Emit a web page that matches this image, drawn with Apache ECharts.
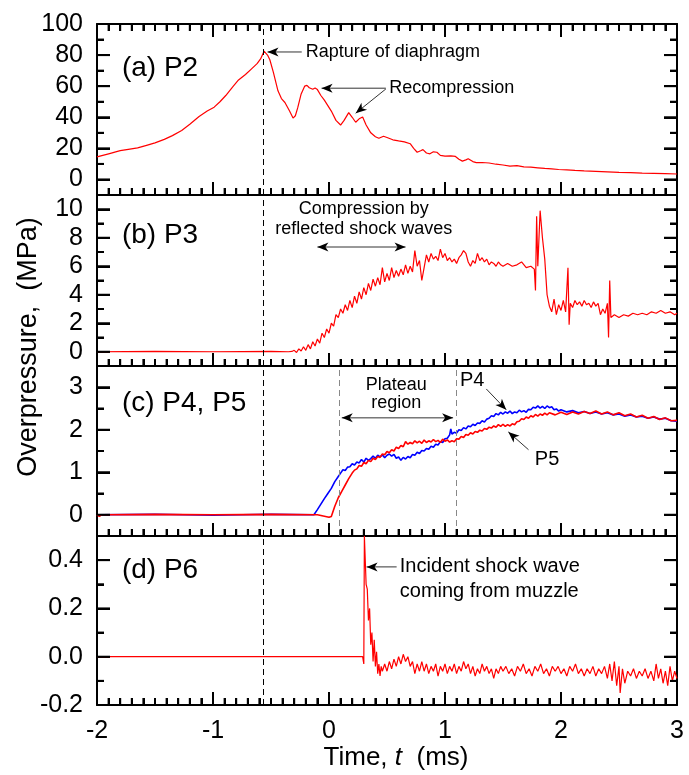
<!DOCTYPE html>
<html>
<head>
<meta charset="utf-8">
<script src="https://cdn.jsdelivr.net/npm/echarts@6/dist/echarts.min.js"></script>
<style>
html, body { margin: 0; padding: 0; background: #fff; }
#chart { width: 689px; height: 775px; }
</style>
</head>
<body>
<div id="chart"></div>
<script>
// time axis (ms)
const timeMin = -2;
const timeMax = 3;
const timeMinorStep = 0.1;
const diaphragmTime = -0.57;
const plateauTimes = [0.09, 1.1];

// panel y ranges [min, max] and major tick steps
const rangeP2 = [-10, 100];
const rangeP3 = [-1, 11];
const rangeP45 = [-0.5, 3.5];
const rangeP6 = [-0.2, 0.5];
const yMajorSteps = [20, 2, 1, 0.2];

// (a) P2, MPa
const p2 = [[-2,14.5],[-1.9,16.5],[-1.8,18.5],[-1.73,19.4],[-1.65,20.3],[-1.58,21.8],[-1.5,23.5],[-1.42,25.8],
  [-1.35,28.2],[-1.27,31.5],[-1.2,35.5],[-1.12,40.5],[-1.05,44],[-0.99,46.5],[-0.94,50],[-0.89,54],[-0.83,59.5],
  [-0.78,64],[-0.72,67.5],[-0.67,71],[-0.62,74.5],[-0.59,77.5],[-0.56,82.5],[-0.53,80],[-0.51,77],[-0.48,69],
  [-0.44,57],[-0.41,52],[-0.38,49.5],[-0.34,44],[-0.31,39.5],[-0.29,41],[-0.27,46],[-0.24,55],[-0.21,60],
  [-0.19,60.5],[-0.17,59],[-0.14,58],[-0.12,58.8],[-0.1,57.8],[-0.07,54],[-0.04,51],[-0.01,47.5],[0.02,44],
  [0.06,38],[0.1,35],[0.13,38],[0.17,43],[0.2,40],[0.23,36.8],[0.26,39],[0.29,40.2],[0.32,35],[0.36,30],
  [0.4,27.5],[0.43,26.5],[0.47,27.8],[0.5,27],[0.55,25.5],[0.6,24.8],[0.65,24.2],[0.7,23],[0.73,20],[0.76,17.5],
  [0.79,18.5],[0.81,19.2],[0.84,17],[0.87,16.5],[0.9,17.8],[0.93,17.5],[0.96,15.5],[1,15],[1.05,15.2],[1.09,14.8],
  [1.12,13],[1.15,11.8],[1.18,12.6],[1.2,13.3],[1.24,11.5],[1.27,10.8],[1.32,10.9],[1.38,10.6],[1.44,9.8],
  [1.5,9.3],[1.56,8.6],[1.62,8.9],[1.68,8.1],[1.74,7.9],[1.8,7.5],[1.86,7.1],[1.92,6.8],[1.98,6.4],[2.05,6.2],
  [2.12,5.8],[2.2,5.5],[2.3,5.2],[2.4,4.9],[2.5,4.6],[2.6,4.4],[2.7,4.1],[2.8,3.9],[2.9,3.7],[3,3.5]];

// (b) P3, MPa
const p3 = [[-2,0],[-1.5,0.02],[-1,0],[-0.5,0.02],[-0.35,0],[-0.32,0.02],[-0.3,0.1],[-0.28,-0.05],[-0.26,0.2],
  [-0.24,0.05],[-0.22,0.35],[-0.2,0.1],[-0.18,0.5],[-0.16,0.2],[-0.14,0.7],[-0.12,0.4],[-0.1,0.9],[-0.08,0.6],
  [-0.06,1.3],[-0.04,1],[-0.02,1.6],[0,1.3],[0.02,2],[0.04,1.8],[0.06,2.6],[0.08,2.4],[0.1,3],[0.12,2.7],
  [0.14,3.3],[0.16,2.9],[0.18,3.6],[0.2,3.1],[0.22,3.9],[0.24,3.4],[0.26,4.2],[0.28,3.7],[0.3,4.5],[0.32,4],
  [0.34,4.8],[0.36,4.3],[0.38,5.1],[0.4,4.6],[0.42,5.2],[0.44,4.7],[0.46,5.9],[0.48,4.9],[0.5,5.5],[0.52,5],
  [0.54,5.9],[0.56,5.2],[0.58,5.7],[0.6,5.3],[0.62,5.8],[0.64,5.4],[0.66,6.1],[0.68,5.5],[0.7,6],[0.72,5.6],
  [0.74,7.1],[0.76,6],[0.78,6.4],[0.8,5],[0.82,5.9],[0.84,6.8],[0.86,6.3],[0.88,6.9],[0.9,6.5],[0.92,6.7],
  [0.94,6.4],[0.96,7.2],[0.98,6.6],[1,6.9],[1.02,6.4],[1.04,6.6],[1.06,6.3],[1.08,6.5],[1.1,6.2],[1.12,6.6],
  [1.14,6.8],[1.16,7.1],[1.18,6.9],[1.2,6.3],[1.22,6],[1.24,6.4],[1.26,6.2],[1.28,6.9],[1.3,6.4],[1.32,6.6],
  [1.34,6.3],[1.36,6.5],[1.38,6.1],[1.4,6.3],[1.42,6.2],[1.44,6],[1.46,6.3],[1.48,6.1],[1.5,6],[1.54,6.2],
  [1.58,6],[1.62,6.1],[1.66,6.3],[1.7,5.9],[1.74,6],[1.77,5.8],[1.78,4.3],[1.79,9.5],[1.8,6],[1.82,9.9],
  [1.84,8],[1.86,6.5],[1.88,4],[1.9,3.2],[1.92,2.8],[1.94,3.7],[1.96,2.6],[1.98,3.3],[2,2.9],[2.02,3.6],
  [2.04,2.8],[2.06,5.9],[2.07,1.9],[2.08,3.4],[2.1,3.1],[2.12,3.6],[2.14,3.3],[2.16,3.5],[2.18,3.2],[2.2,3.6],
  [2.22,3.3],[2.24,3.4],[2.26,3.1],[2.28,3.5],[2.3,3.2],[2.32,3.4],[2.34,2.6],[2.36,3],[2.38,2.7],[2.4,3.4],
  [2.41,1],[2.42,5],[2.43,2.4],[2.46,2.6],[2.5,2.4],[2.54,2.6],[2.58,2.5],[2.62,2.7],[2.66,2.6],[2.7,2.7],
  [2.74,2.6],[2.78,2.8],[2.82,2.7],[2.86,2.9],[2.9,2.7],[2.94,2.8],[2.98,2.6],[3,2.7]];

// (c) P4 (blue) and P5 (red), MPa
const p4 = [[-2,0],[-1.5,0.01],[-1,-0.01],[-0.5,0.01],[-0.13,0],[-0.1,0.12],[-0.07,0.25],[-0.04,0.38],
  [-0.01,0.5],[0.02,0.62],[0.05,0.78],[0.08,0.9],[0.1,0.98],[0.12,1.06],[0.14,1.04],[0.16,1.12],[0.18,1.13],
  [0.2,1.2],[0.22,1.17],[0.24,1.24],[0.26,1.22],[0.28,1.3],[0.3,1.24],[0.32,1.33],[0.34,1.28],[0.36,1.32],
  [0.38,1.38],[0.4,1.33],[0.42,1.4],[0.44,1.36],[0.46,1.41],[0.48,1.34],[0.5,1.4],[0.52,1.43],[0.54,1.38],
  [0.56,1.42],[0.58,1.33],[0.6,1.36],[0.62,1.28],[0.64,1.35],[0.66,1.31],[0.68,1.37],[0.7,1.34],[0.72,1.42],
  [0.74,1.4],[0.76,1.47],[0.78,1.44],[0.8,1.51],[0.82,1.5],[0.84,1.56],[0.86,1.54],[0.88,1.61],[0.9,1.59],
  [0.92,1.66],[0.94,1.64],[0.96,1.72],[0.98,1.7],[1,1.79],[1.02,1.8],[1.04,1.88],[1.05,2.02],[1.06,1.9],
  [1.08,1.94],[1.1,1.92],[1.12,2],[1.14,1.98],[1.16,2.05],[1.18,2.02],[1.2,2.09],[1.22,2.07],[1.24,2.13],
  [1.26,2.1],[1.28,2.16],[1.3,2.15],[1.32,2.21],[1.34,2.18],[1.36,2.25],[1.38,2.27],[1.4,2.33],[1.42,2.31],
  [1.44,2.38],[1.46,2.35],[1.48,2.41],[1.5,2.37],[1.52,2.42],[1.54,2.39],[1.56,2.44],[1.58,2.38],[1.6,2.42],
  [1.62,2.4],[1.64,2.46],[1.66,2.42],[1.68,2.45],[1.7,2.41],[1.72,2.48],[1.74,2.47],[1.76,2.53],[1.78,2.51],
  [1.8,2.56],[1.82,2.51],[1.84,2.55],[1.86,2.5],[1.88,2.56],[1.9,2.52],[1.92,2.54],[1.94,2.47],[1.96,2.49],
  [1.98,2.44],[2,2.47],[2.05,2.42],[2.1,2.45],[2.15,2.4],[2.2,2.43],[2.25,2.38],[2.3,2.42],[2.35,2.37],
  [2.4,2.4],[2.45,2.35],[2.5,2.37],[2.55,2.32],[2.6,2.35],[2.65,2.3],[2.7,2.32],[2.75,2.27],[2.8,2.3],
  [2.85,2.25],[2.9,2.27],[2.95,2.21],[3,2.2]];
const p5 = [[-2,0],[-1.98,-0.04],[-1.96,0],[-1.5,0.01],[-1,0],[-0.5,0.01],[-0.1,0],[-0.05,-0.03],[0,-0.06],
  [0.02,-0.04],[0.05,0.2],[0.08,0.4],[0.11,0.55],[0.14,0.7],[0.17,0.85],[0.2,0.98],[0.22,1.05],[0.24,1.08],
  [0.26,1.16],[0.28,1.14],[0.3,1.23],[0.32,1.2],[0.34,1.28],[0.36,1.25],[0.38,1.33],[0.4,1.3],[0.42,1.37],
  [0.44,1.35],[0.46,1.43],[0.48,1.41],[0.5,1.49],[0.52,1.46],[0.54,1.53],[0.56,1.5],[0.58,1.59],[0.6,1.56],
  [0.62,1.63],[0.64,1.6],[0.66,1.72],[0.68,1.66],[0.7,1.7],[0.72,1.67],[0.74,1.74],[0.76,1.69],[0.78,1.73],
  [0.8,1.68],[0.82,1.76],[0.84,1.7],[0.86,1.74],[0.88,1.71],[0.9,1.77],[0.92,1.72],[0.94,1.75],[0.96,1.7],
  [0.98,1.78],[1,1.73],[1.02,1.76],[1.04,1.71],[1.06,1.74],[1.08,1.72],[1.1,1.79],[1.12,1.78],[1.14,1.84],
  [1.16,1.82],[1.18,1.89],[1.2,1.87],[1.22,1.93],[1.24,1.9],[1.26,1.96],[1.28,1.94],[1.3,1.99],[1.32,1.97],
  [1.34,2.03],[1.36,2.01],[1.38,2.06],[1.4,2.04],[1.42,2.09],[1.44,2.06],[1.46,2.12],[1.48,2.08],[1.5,2.13],
  [1.52,2.08],[1.54,2.12],[1.56,2.09],[1.58,2.14],[1.6,2.12],[1.62,2.19],[1.64,2.2],[1.66,2.26],[1.68,2.24],
  [1.7,2.3],[1.72,2.27],[1.74,2.33],[1.76,2.3],[1.78,2.36],[1.8,2.32],[1.82,2.37],[1.84,2.34],[1.86,2.39],
  [1.88,2.35],[1.9,2.4],[1.95,2.35],[2,2.41],[2.05,2.36],[2.1,2.42],[2.15,2.37],[2.2,2.43],[2.25,2.38],
  [2.3,2.44],[2.35,2.37],[2.4,2.42],[2.45,2.35],[2.5,2.4],[2.55,2.33],[2.6,2.37],[2.65,2.3],[2.7,2.34],
  [2.75,2.27],[2.8,2.31],[2.85,2.24],[2.9,2.28],[2.95,2.21],[3,2.22]];

// (d) P6, MPa
const p6 = [[-2,0],[-1,0],[0,0],[0.29,0],[0.3,-0.03],[0.305,0.5],[0.315,0.5],[0.32,0.3],[0.33,0.28],[0.34,0.15],
  [0.35,0.2],[0.36,0.05],[0.37,0.1],[0.38,-0.02],[0.39,0.07],[0.4,-0.04],[0.41,0.02],[0.42,-0.07],[0.43,-0.03],
  [0.44,-0.08],[0.45,-0.04],[0.46,-0.06],[0.48,-0.03],[0.5,-0.06],[0.52,-0.02],[0.54,-0.05],[0.56,-0.01],
  [0.58,-0.04],[0.6,0],[0.62,-0.03],[0.64,0.01],[0.66,-0.02],[0.68,0],[0.7,-0.04],[0.72,-0.02],[0.74,-0.07],
  [0.76,-0.03],[0.78,-0.06],[0.8,-0.02],[0.82,-0.06],[0.84,-0.03],[0.86,-0.07],[0.88,-0.04],[0.9,-0.06],
  [0.92,-0.03],[0.94,-0.08],[0.96,-0.04],[0.98,-0.06],[1,-0.03],[1.02,-0.07],[1.04,-0.04],[1.06,-0.06],
  [1.08,-0.03],[1.1,-0.07],[1.12,-0.04],[1.14,-0.06],[1.16,-0.02],[1.18,-0.05],[1.2,-0.03],[1.22,-0.07],
  [1.24,-0.04],[1.26,-0.08],[1.28,-0.05],[1.3,-0.07],[1.32,-0.03],[1.34,-0.06],[1.36,-0.04],[1.38,-0.07],
  [1.4,-0.05],[1.42,-0.09],[1.44,-0.05],[1.46,-0.07],[1.48,-0.04],[1.5,-0.06],[1.525,-0.04],[1.55,-0.07],
  [1.575,-0.05],[1.6,-0.08],[1.625,-0.04],[1.65,-0.06],[1.675,-0.03],[1.7,-0.07],[1.725,-0.05],[1.75,-0.08],
  [1.775,-0.04],[1.8,-0.06],[1.825,-0.03],[1.85,-0.07],[1.875,-0.05],[1.9,-0.08],[1.925,-0.04],[1.95,-0.06],
  [1.975,-0.04],[2,-0.07],[2.025,-0.05],[2.05,-0.08],[2.075,-0.04],[2.1,-0.06],[2.125,-0.03],[2.15,-0.07],
  [2.175,-0.05],[2.2,-0.08],[2.225,-0.05],[2.25,-0.07],[2.275,-0.04],[2.3,-0.08],[2.325,-0.05],[2.35,-0.07],
  [2.375,-0.04],[2.4,-0.09],[2.42,-0.03],[2.44,-0.1],[2.46,-0.02],[2.48,-0.12],[2.5,-0.04],[2.51,-0.15],
  [2.53,-0.05],[2.55,-0.11],[2.575,-0.06],[2.6,-0.08],[2.625,-0.05],[2.65,-0.09],[2.675,-0.06],[2.7,-0.08],
  [2.725,-0.05],[2.75,-0.09],[2.775,-0.06],[2.8,-0.1],[2.82,-0.03],[2.84,-0.09],[2.86,-0.05],[2.88,-0.11],
  [2.9,-0.06],[2.92,-0.12],[2.94,-0.04],[2.96,-0.1],[2.98,-0.06],[3,-0.09]];

const FONT = '"Liberation Sans", Arial, sans-serif';
const grids = [
  { left: 97, top: 24, width: 580, height: 171 },
  { left: 97, top: 195, width: 580, height: 171 },
  { left: 97, top: 366, width: 580, height: 170 },
  { left: 97, top: 536, width: 580, height: 169 }
];
const ranges = [rangeP2, rangeP3, rangeP45, rangeP6];
const ySplits = [5, 6, 4, 4];
const MAJOR_LEN = 13;
const MINOR_LEN = 7;

function xAxisFor(g, position) {
  const showLabel = g === 3 && position === 'bottom';
  return {
    type: 'value', gridIndex: g, position: position, min: timeMin, max: timeMax, interval: 1,
    axisLine: { show: true, onZero: false, lineStyle: { color: '#000', width: 2 } },
    axisTick: { show: true, inside: true, length: MAJOR_LEN, lineStyle: { color: '#000', width: 2 } },
    minorTick: { show: true, splitNumber: 10, length: MINOR_LEN, lineStyle: { color: '#000', width: 2 } },
    splitLine: { show: false },
    axisLabel: { show: showLabel, margin: 14, color: '#000', fontSize: 25, fontFamily: FONT }
  };
}

function yAxisFor(g, position) {
  const r = ranges[g];
  return {
    type: 'value', gridIndex: g, position: position, min: r[0], max: r[1], splitNumber: ySplits[g],
    axisLine: { show: true, onZero: false, lineStyle: { color: '#000', width: 2 } },
    axisTick: { show: true, inside: true, length: MAJOR_LEN, lineStyle: { color: '#000', width: 2 } },
    minorTick: { show: true, splitNumber: 2, length: MINOR_LEN, lineStyle: { color: '#000', width: 2 } },
    splitLine: { show: false },
    axisLabel: {
      show: position === 'left', margin: 14, color: '#000', fontSize: 25, fontFamily: FONT,
      showMinLabel: g === 3, showMaxLabel: g === 0,
      formatter: g === 3 ? (v) => v.toFixed(1) : (v) => String(v)
    }
  };
}

const xAxes = [0, 1, 2, 3].map((g) => xAxisFor(g, 'bottom'));
xAxes.push(xAxisFor(0, 'top'));
const yAxes = [];
[0, 1, 2, 3].forEach((g) => { yAxes.push(yAxisFor(g, 'left')); yAxes.push(yAxisFor(g, 'right')); });

function dashLine(time, color) {
  return { xAxis: time, lineStyle: { color: color, type: [6, 4], width: 1 } };
}

function markFor(g) {
  const data = [dashLine(diaphragmTime, '#000')];
  if (g === 2) plateauTimes.forEach((t) => data.push(dashLine(t, '#888')));
  return { silent: true, symbol: 'none', label: { show: false }, data: data };
}

function lineSeries(g, data, color, width, withMarks) {
  const s = {
    type: 'line', xAxisIndex: g, yAxisIndex: 2 * g, data: data, showSymbol: false, symbol: 'none',
    lineStyle: { color: color, width: width }, clip: true
  };
  if (withMarks) s.markLine = markFor(g);
  return s;
}

// same linear mapping as each panel's axes
function at(g, p) {
  const gr = grids[g], r = ranges[g];
  return [gr.left + (p[0] - timeMin) / (timeMax - timeMin) * gr.width,
    gr.top + (r[1] - p[1]) / (r[1] - r[0]) * gr.height];
}

function seg(x1, y1, x2, y2) {
  return { type: 'line', z: 15, silent: true, shape: { x1: x1, y1: y1, x2: x2, y2: y2 },
    style: { stroke: '#000', lineWidth: 2 } };
}

// inward tick marks on every panel frame (major + minor)
function frameTicks(g) {
  const gr = grids[g], r = ranges[g];
  const out = [];
  const right = gr.left + gr.width, bottom = gr.top + gr.height;
  const nX = Math.round((timeMax - timeMin) / timeMinorStep);
  for (let i = 1; i < nX; i++) {
    const x = gr.left + i / nX * gr.width;
    const len = i % 10 === 0 ? MAJOR_LEN : MINOR_LEN;
    out.push(seg(x, bottom, x, bottom - len));
    if (g === 0) out.push(seg(x, gr.top, x, gr.top + len));
  }
  const minor = yMajorSteps[g] / 2;
  const k0 = Math.ceil(r[0] / minor - 1e-9), k1 = Math.floor(r[1] / minor + 1e-9);
  for (let k = k0; k <= k1; k++) {
    const v = k * minor;
    if (Math.abs(v - r[0]) < 1e-9 || Math.abs(v - r[1]) < 1e-9) continue;
    const y = at(g, [timeMin, v])[1];
    const len = k % 2 === 0 ? MAJOR_LEN : MINOR_LEN;
    out.push(seg(gr.left, y, gr.left + len, y));
    out.push(seg(right, y, right - len, y));
  }
  return out;
}

function text(g, p, str, size, align) {
  const q = at(g, p);
  return {
    type: 'text', x: q[0], y: q[1], z: 20, silent: true,
    style: { text: str, font: size + 'px ' + FONT, fill: '#000',
      align: align, verticalAlign: 'middle', textAlign: align, textVerticalAlign: 'middle' }
  };
}

function head(tip, from) {
  const dx = tip[0] - from[0], dy = tip[1] - from[1];
  const len = Math.sqrt(dx * dx + dy * dy);
  const ux = dx / len, uy = dy / len, nx = -uy, ny = ux;
  const L = 11, W = 4.5;
  return {
    type: 'polygon', z: 21, silent: true,
    shape: { points: [tip, [tip[0] - L * ux + W * nx, tip[1] - L * uy + W * ny],
      [tip[0] - (L - 3) * ux, tip[1] - (L - 3) * uy], [tip[0] - L * ux - W * nx, tip[1] - L * uy - W * ny]] },
    style: { fill: '#000' }
  };
}

function arrow(g, from, to, both) {
  const a = at(g, from), b = at(g, to);
  const els = [{ type: 'line', z: 20, silent: true,
    shape: { x1: a[0], y1: a[1], x2: b[0], y2: b[1] }, style: { stroke: '#333', lineWidth: 1 } }];
  els.push(head(b, a));
  if (both) els.push(head(a, b));
  return els;
}

const graphics = [].concat(
  frameTicks(0), frameTicks(1), frameTicks(2), frameTicks(3),
  text(0, [-1.785, 71.6], '(a) P2', 28, 'left'),
  text(1, [-1.785, 8.2], '(b) P3', 28, 'left'),
  text(2, [-1.785, 2.63], '(c) P4, P5', 28, 'left'),
  text(3, [-1.785, 0.36], '(d) P6', 28, 'left'),
  text(0, [-0.2, 82], 'Rapture of diaphragm', 18, 'left'),
  arrow(0, [-0.235, 82], [-0.53, 82], false),
  text(0, [0.52, 58.7], 'Recompression', 18, 'left'),
  arrow(0, [0.49, 58.7], [-0.064, 58.7], false),
  arrow(0, [0.49, 58.2], [0.23, 42.6], false),
  text(1, [0.3, 10], 'Compression by', 18, 'center'),
  text(1, [0.3, 8.6], 'reflected shock waves', 18, 'center'),
  arrow(1, [-0.1, 7.35], [0.66, 7.35], true),
  text(2, [0.58, 3.06], 'Plateau', 18, 'center'),
  text(2, [0.58, 2.64], 'region', 18, 'center'),
  arrow(2, [0.11, 2.28], [1.07, 2.28], true),
  text(2, [1.235, 3.15], 'P4', 20, 'center'),
  arrow(2, [1.356, 2.96], [1.528, 2.47], false),
  text(2, [1.88, 1.29], 'P5', 20, 'center'),
  arrow(2, [1.72, 1.53], [1.546, 1.95], false),
  text(3, [0.61, 0.372], 'Incident shock wave', 20, 'left'),
  text(3, [0.61, 0.269], 'coming from muzzle', 20, 'left'),
  arrow(3, [0.583, 0.372], [0.324, 0.372], false),
  [{
    type: 'text', x: 29, y: 347, rotation: Math.PI / 2, z: 20, silent: true,
    style: { text: 'Overpressure,  (MPa)', font: '27px ' + FONT, fill: '#000',
      align: 'center', verticalAlign: 'middle', textAlign: 'center', textVerticalAlign: 'middle' }
  }, {
    type: 'text', x: 396, y: 758, z: 20, silent: true,
    style: {
      text: '{n|Time, }{i|t}{n|  (ms)}', align: 'center', verticalAlign: 'middle',
      textAlign: 'center', textVerticalAlign: 'middle',
      rich: {
        n: { font: '26px ' + FONT, fill: '#000' },
        i: { font: 'italic 26px ' + FONT, fill: '#000' }
      }
    }
  }]
);

const option = {
  animation: false,
  backgroundColor: '#fff',
  grid: grids,
  xAxis: xAxes,
  yAxis: yAxes,
  series: [
    lineSeries(0, p2, '#ff0000', 1.2, true),
    lineSeries(1, p3, '#ff0000', 1.2, true),
    lineSeries(2, p4, '#0000ff', 1.6, true),
    lineSeries(2, p5, '#ff0000', 1.6, false),
    lineSeries(3, p6, '#ff0000', 1.2, true)
  ],
  graphic: graphics
};

const chart = echarts.init(document.getElementById('chart'));
chart.setOption(option);
</script>
</body>
</html>
